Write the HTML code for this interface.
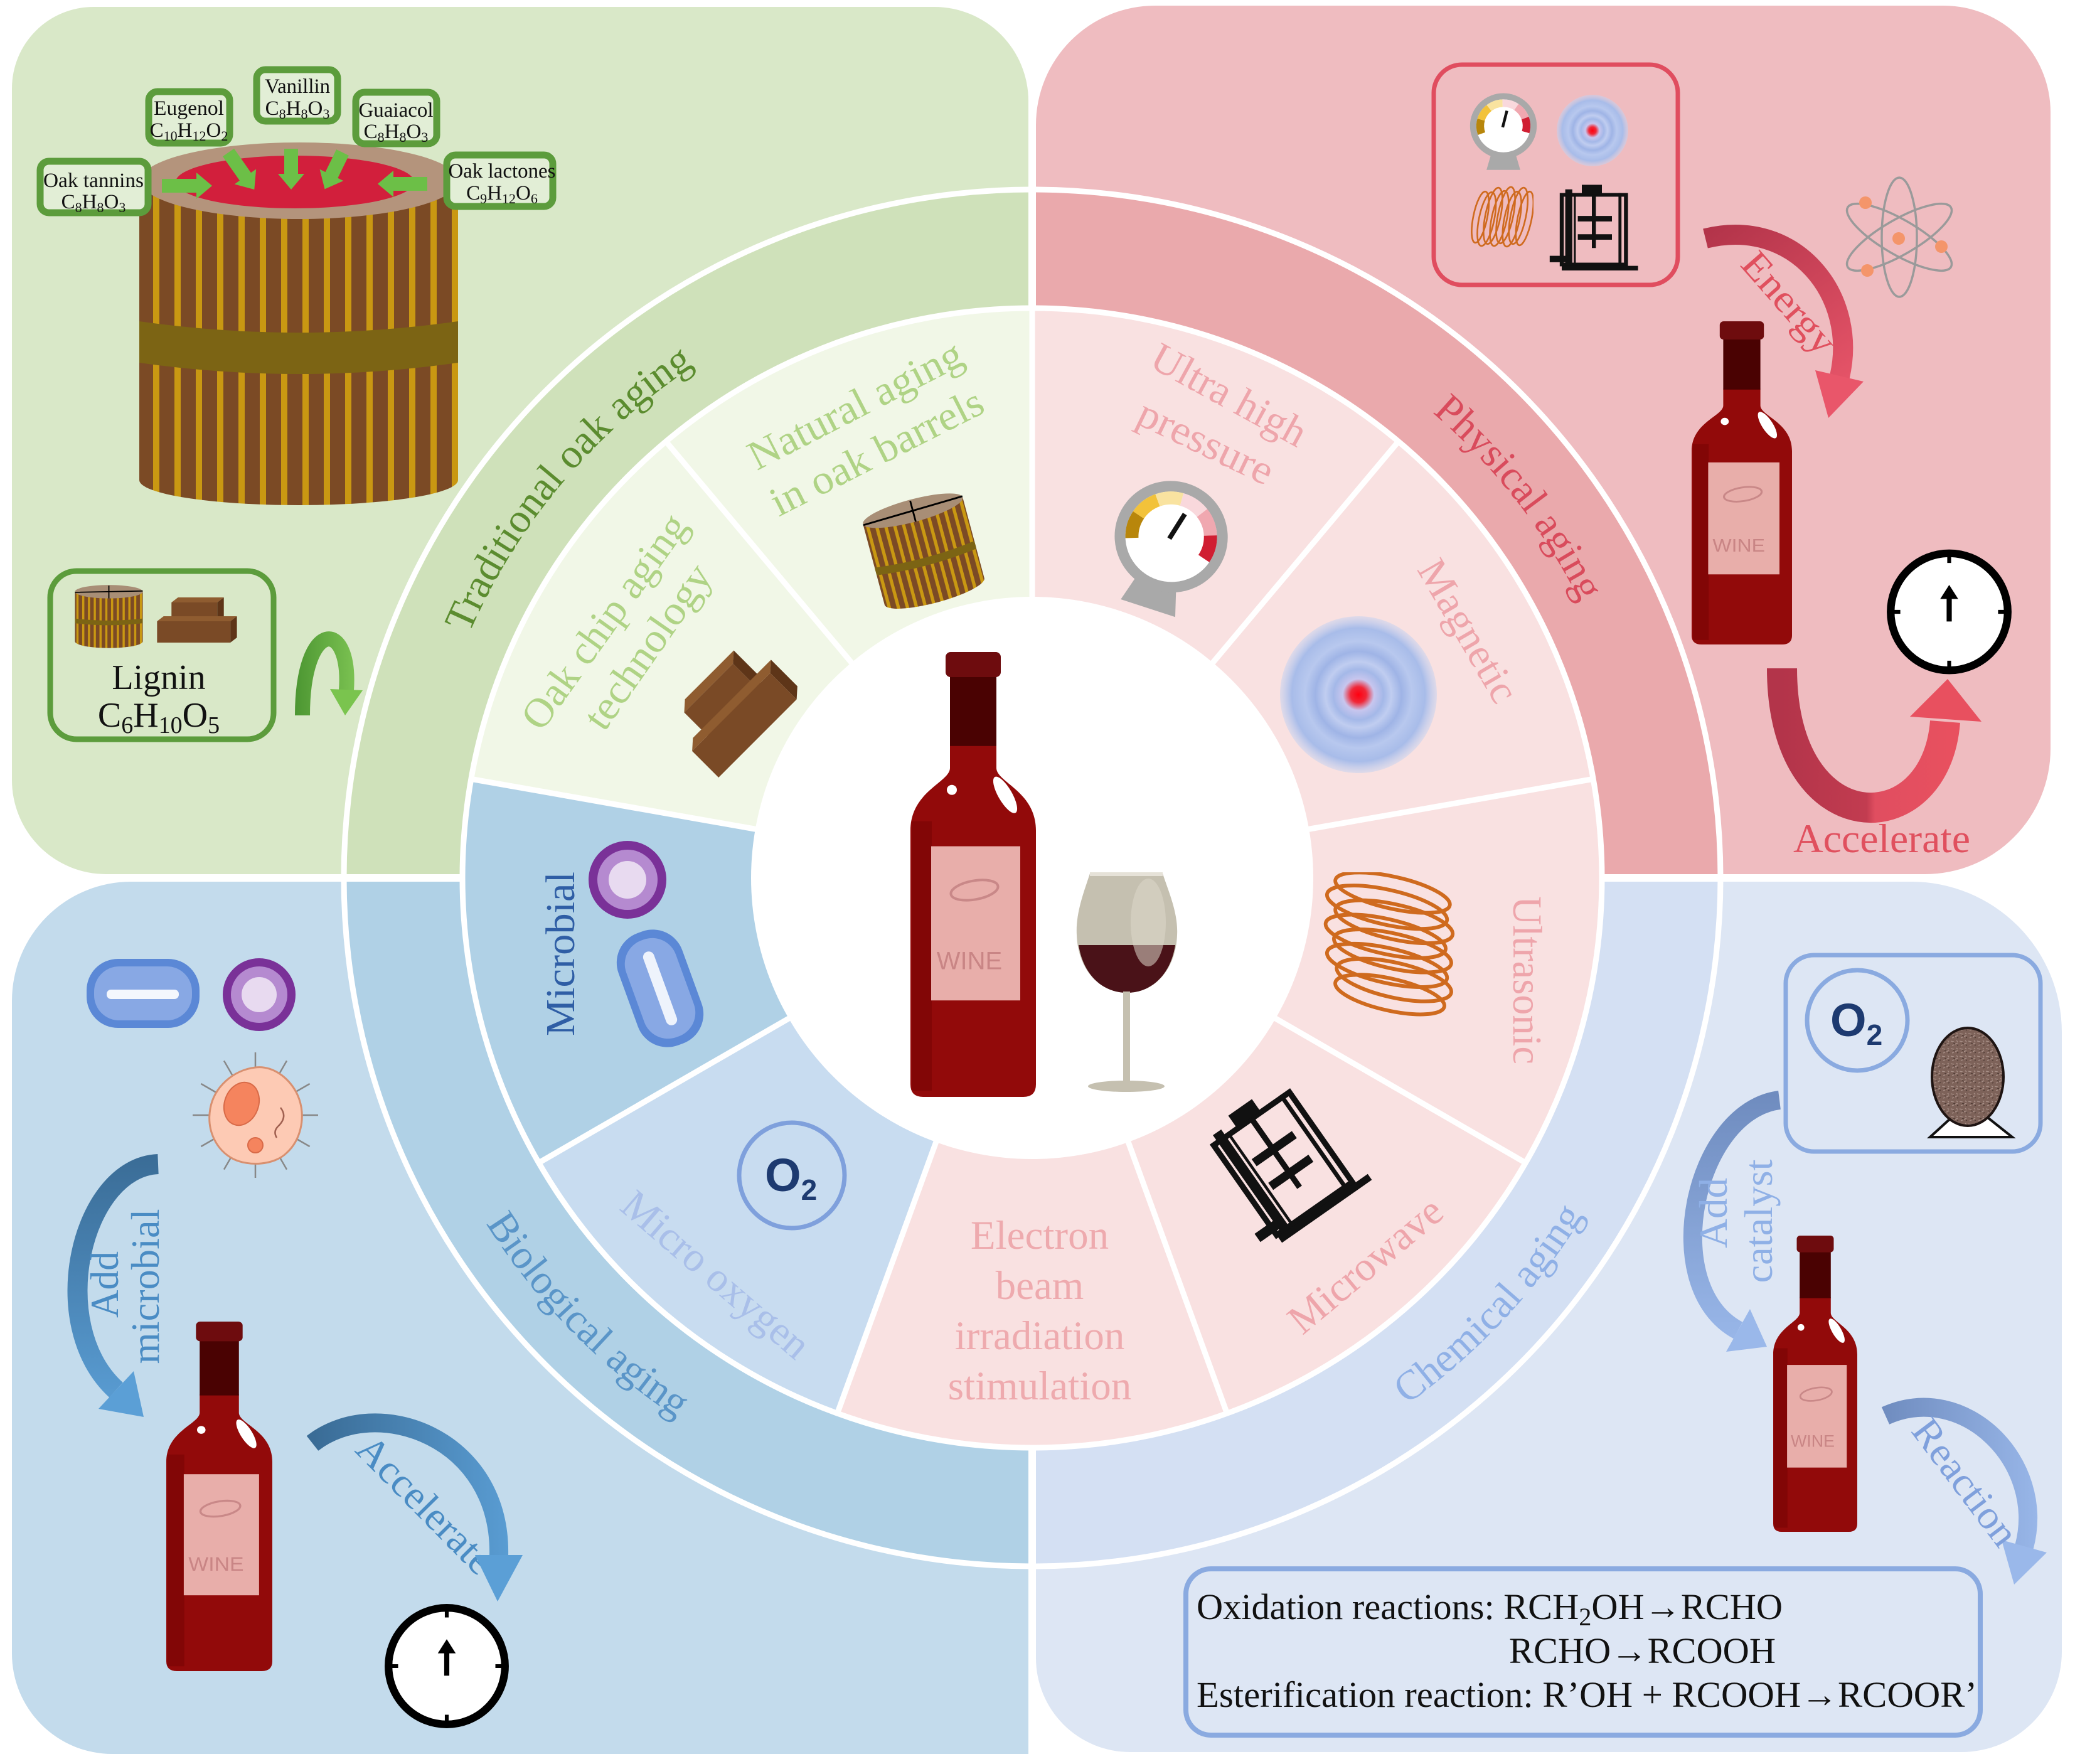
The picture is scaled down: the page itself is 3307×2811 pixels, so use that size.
<!DOCTYPE html>
<html><head><meta charset="utf-8"><style>
html,body{margin:0;padding:0;background:#fff;}
svg{display:block;}
text{font-family:"Liberation Serif",serif;}
.s{font-size:22px;}
</style></head><body>
<svg width="3307" height="2811" viewBox="0 0 3307 2811" xmlns="http://www.w3.org/2000/svg" xmlns:xlink="http://www.w3.org/1999/xlink">
<defs>
<pattern id="bigStripe" patternUnits="userSpaceOnUse" x="222" y="0" width="34" height="50"><rect width="34" height="50" fill="#7b4a25"/><rect x="22" width="10" height="50" fill="#c99812"/></pattern>
<pattern id="sStripe" patternUnits="userSpaceOnUse" x="0" y="0" width="8" height="10"><rect width="8" height="10" fill="#7b4a25"/><rect x="5" width="3" height="10" fill="#c99812"/></pattern>
<pattern id="eggTex" patternUnits="userSpaceOnUse" width="14" height="12"><rect width="14" height="12" fill="#7d6259"/><path d="M1,3 l5,1 M8,8 l4,-2 M3,10 l3,-1 M10,2 l2,2" stroke="#a89088" stroke-width="1.3"/><path d="M5,6 l3,1 M11,10 l2,-1" stroke="#4e3a34" stroke-width="1.3"/></pattern>
<radialGradient id="mag"><stop offset="0" stop-color="#ff0010"/><stop offset="0.1" stop-color="#f02838"/><stop offset="0.2" stop-color="#c8c6ee"/><stop offset="0.32" stop-color="#a4b8e8"/><stop offset="0.42" stop-color="#c0cdf0"/><stop offset="0.55" stop-color="#9fb4e6"/><stop offset="0.68" stop-color="#b8c8ee"/><stop offset="0.85" stop-color="#a8bce9"/><stop offset="1" stop-color="#c5d2f0" stop-opacity="0.5"/></radialGradient>
<linearGradient id="gEnergy" gradientUnits="userSpaceOnUse" x1="2720" y1="370" x2="2930" y2="650"><stop offset="0" stop-color="#b3344a"/><stop offset="1" stop-color="#e9566a"/></linearGradient>
<linearGradient id="gU" gradientUnits="userSpaceOnUse" x1="2840" y1="0" x2="3110" y2="0"><stop offset="0" stop-color="#b3344a"/><stop offset="0.5" stop-color="#c23c50"/><stop offset="0.55" stop-color="#e04e60"/><stop offset="1" stop-color="#e8505f"/></linearGradient>
<linearGradient id="gBlue1" gradientUnits="userSpaceOnUse" x1="0" y1="1840" x2="0" y2="2260"><stop offset="0" stop-color="#3a6c96"/><stop offset="1" stop-color="#5b9fd6"/></linearGradient>
<linearGradient id="gBlue2" gradientUnits="userSpaceOnUse" x1="500" y1="0" x2="830" y2="0"><stop offset="0" stop-color="#3a6c96"/><stop offset="1" stop-color="#5b9fd6"/></linearGradient>
<linearGradient id="gLav1" gradientUnits="userSpaceOnUse" x1="0" y1="1745" x2="0" y2="2150"><stop offset="0" stop-color="#6f8cbf"/><stop offset="1" stop-color="#9ab8ea"/></linearGradient>
<linearGradient id="gLav2" gradientUnits="userSpaceOnUse" x1="3000" y1="0" x2="3260" y2="0"><stop offset="0" stop-color="#6f8cbf"/><stop offset="1" stop-color="#9ab8ea"/></linearGradient>
<linearGradient id="gGreen" gradientUnits="userSpaceOnUse" x1="470" y1="0" x2="580" y2="0"><stop offset="0" stop-color="#4c9632"/><stop offset="1" stop-color="#82c856"/></linearGradient>

<symbol id="bottle" viewBox="0 0 200 710" preserveAspectRatio="none">
<path d="M63,148 H137 V185 C137,208 200,222 200,285 V690 Q200,710 180,710 H20 Q0,710 0,690 V285 C0,222 63,208 63,185 Z" fill="#920a0a"/>
<rect x="2" y="270" width="32" height="430" fill="#820606"/>
<rect x="63" y="38" width="74" height="112" fill="#4a0202"/>
<rect x="56" y="0" width="88" height="40" rx="8" fill="#6e0c0e"/>
<rect x="33" y="310" width="142" height="246" fill="#e8aeaa"/>
<ellipse cx="102" cy="380" rx="38" ry="15" fill="none" stroke="#c98888" stroke-width="4" transform="rotate(-10 102 380)"/>
<text x="94" y="506" font-size="40" text-anchor="middle" fill="#c98585" style="font-family:'Liberation Sans',sans-serif">WINE</text>
<ellipse cx="151" cy="228" rx="11" ry="33" fill="#fff" transform="rotate(-30 151 228)"/>
<circle cx="66" cy="220" r="8" fill="#fff"/>
</symbol>

<symbol id="sbarrel" viewBox="0 0 100 100" preserveAspectRatio="none">
<path d="M3,12 V86 A47,10 0 0 0 97,86 V12 Z" fill="url(#sStripe)"/>
<path d="M3,52 Q50,58 97,52 V59 Q50,65 3,59 Z" fill="#7c6414"/>
<ellipse cx="50" cy="12" rx="47" ry="10" fill="#a88e76"/>
<path d="M3,13 L97,11 M50,3 V22" stroke="#000" stroke-width="1.6" fill="none"/>
</symbol>

<symbol id="chips" viewBox="0 0 140 80" preserveAspectRatio="none">
<polygon points="30,10 40,2 110,2 100,10" fill="#8f5c30"/>
<rect x="30" y="10" width="70" height="35" fill="#7a4a26"/>
<polygon points="100,10 110,2 110,37 100,45" fill="#5e3518"/>
<polygon points="8,40 18,32 130,32 120,40" fill="#8f5c30"/>
<rect x="8" y="40" width="112" height="34" fill="#7a4a26"/>
<polygon points="120,40 130,32 130,66 120,74" fill="#5e3518"/>
</symbol>

<symbol id="gauge" viewBox="0 0 100 115" preserveAspectRatio="none">
<path d="M34,84 H66 L74,112 H26 Z" fill="#a9a9a9"/>
<circle cx="50" cy="48" r="43" fill="#fff" stroke="#a9a9a9" stroke-width="9"/>
<g fill="none" stroke-width="11">
<path d="M19,59.3 A33,33 0 0 1 18.3,38.9" stroke="#b8860b"/>
<path d="M18.3,38.9 A33,33 0 0 1 29.7,22" stroke="#f2c23a"/>
<path d="M29.7,22 A33,33 0 0 1 48.8,15" stroke="#f9e3a0"/>
<path d="M48.8,15 A33,33 0 0 1 68.5,20.6" stroke="#f9d8dc"/>
<path d="M68.5,20.6 A33,33 0 0 1 81,36.7" stroke="#f0a8b0"/>
<path d="M81,36.7 A33,33 0 0 1 81.7,57.1" stroke="#d01e32"/>
</g>
<line x1="49" y1="50" x2="55" y2="26" stroke="#111" stroke-width="4"/>
</symbol>

<symbol id="coil" viewBox="0 0 100 100" preserveAspectRatio="none">
<g fill="none" stroke="#cf6a1e" stroke-width="2.6">
<ellipse cx="52" cy="14" rx="42" ry="11" transform="rotate(12 52 14)"/>
<ellipse cx="48" cy="24" rx="44" ry="12" transform="rotate(12 48 24)"/>
<ellipse cx="53" cy="34" rx="43" ry="12" transform="rotate(12 53 34)"/>
<ellipse cx="47" cy="44" rx="44" ry="12" transform="rotate(12 47 44)"/>
<ellipse cx="52" cy="54" rx="43" ry="12" transform="rotate(12 52 54)"/>
<ellipse cx="48" cy="64" rx="44" ry="12" transform="rotate(12 48 64)"/>
<ellipse cx="53" cy="74" rx="42" ry="12" transform="rotate(12 53 74)"/>
<ellipse cx="50" cy="84" rx="40" ry="11" transform="rotate(12 50 84)"/>
</g>
</symbol>

<symbol id="mw" viewBox="0 0 100 100" preserveAspectRatio="none">
<g fill="none" stroke="#111">
<rect x="20" y="12" width="64" height="76" stroke-width="4"/>
<line x1="27" y1="6" x2="27" y2="94" stroke-width="7"/>
<line x1="33" y1="12" x2="33" y2="90" stroke-width="2"/>
<line x1="78" y1="10" x2="78" y2="92" stroke-width="3"/>
<line x1="52" y1="12" x2="52" y2="70" stroke-width="4"/>
<line x1="36" y1="38" x2="70" y2="38" stroke-width="6"/>
<line x1="36" y1="58" x2="70" y2="58" stroke-width="6"/>
<line x1="8" y1="82" x2="30" y2="82" stroke-width="7"/>
<line x1="20" y1="92" x2="96" y2="92" stroke-width="5"/>
</g>
<rect x="40" y="1" width="20" height="10" fill="#111"/>
</symbol>

<symbol id="clock" viewBox="0 0 200 200">
<circle cx="100" cy="100" r="91" fill="#fff" stroke="#000" stroke-width="12"/>
<path d="M100,4 V24 M100,176 V196 M4,100 H24 M176,100 H196" stroke="#000" stroke-width="6"/>
<path d="M100,115 V75" stroke="#000" stroke-width="8"/>
<path d="M86,80 L100,58 L114,80 Z" fill="#000"/>
</symbol>
</defs>

<!-- Panels -->
<path d="M149,11 H1489 A150,150 0 0 1 1639,161 V1393 H169 A150,150 0 0 1 19,1243 V141 A130,130 0 0 1 149,11 Z" fill="#d9e8c8"/>
<path d="M1841,9 H3098 A170,170 0 0 1 3268,179 V1193 A200,200 0 0 1 3068,1393 H1651 V199 A190,190 0 0 1 1841,9 Z" fill="#efbcc0"/>
<path d="M209,1405 H1639 V2795 H179 A160,160 0 0 1 19,2635 V1595 A190,190 0 0 1 209,1405 Z" fill="#c3dbec"/>
<path d="M1651,1405 H3046 A240,240 0 0 1 3286,1645 V2632 A160,160 0 0 1 3126,2792 H1801 A150,150 0 0 1 1651,2642 Z" fill="#dde6f4"/>

<!-- Band quadrants -->
<path d="M1645,1399 L548,1399 A1097,1097 0 0 1 1645,302 Z" fill="#cfe1ba"/>
<path d="M1645,1399 L1645,302 A1097,1097 0 0 1 2742,1399 Z" fill="#eaa9ac"/>
<path d="M1645,1399 L2742,1399 A1097,1097 0 0 1 1645,2496 Z" fill="#d4e0f3"/>
<path d="M1645,1399 L1645,2496 A1097,1097 0 0 1 548,1399 Z" fill="#b0d1e6"/>
<circle cx="1645" cy="1399" r="1097" fill="none" stroke="#fff" stroke-width="9"/>

<!-- Inner wedges -->
<path d="M1645,1399 L1645,491 A908,908 0 0 1 2228.7,703.5 Z" fill="#f9e1e1"/>
<path d="M1645,1399 L2228.7,703.5 A908,908 0 0 1 2539.2,1241.3 Z" fill="#f9e1e1"/>
<path d="M1645,1399 L2539.2,1241.3 A908,908 0 0 1 2431.4,1853 Z" fill="#f9e1e1"/>
<path d="M1645,1399 L2431.4,1853 A908,908 0 0 1 1955.5,2252.2 Z" fill="#f9e1e1"/>
<path d="M1645,1399 L1955.5,2252.2 A908,908 0 0 1 1334.5,2252.2 Z" fill="#f9e1e1"/>
<path d="M1645,1399 L1334.5,2252.2 A908,908 0 0 1 858.6,1853 Z" fill="#c8dcf0"/>
<path d="M1645,1399 L858.6,1853 A908,908 0 0 1 750.8,1241.3 Z" fill="#b0d1e6"/>
<path d="M1645,1399 L750.8,1241.3 A908,908 0 0 1 1061.3,703.5 Z" fill="#f1f7e7"/>
<path d="M1645,1399 L1061.3,703.5 A908,908 0 0 1 1645,491 Z" fill="#f1f7e7"/>
<circle cx="1645" cy="1399" r="908" fill="none" stroke="#fff" stroke-width="9"/>
<g stroke="#fff" stroke-width="9">
<line x1="1645" y1="1399" x2="1645" y2="491"/>
<line x1="1645" y1="1399" x2="2228.7" y2="703.5"/>
<line x1="1645" y1="1399" x2="2539.2" y2="1241.3"/>
<line x1="1645" y1="1399" x2="2431.4" y2="1853"/>
<line x1="1645" y1="1399" x2="1955.5" y2="2252.2"/>
<line x1="1645" y1="1399" x2="1334.5" y2="2252.2"/>
<line x1="1645" y1="1399" x2="858.6" y2="1853"/>
<line x1="1645" y1="1399" x2="750.8" y2="1241.3"/>
<line x1="1645" y1="1399" x2="1061.3" y2="703.5"/>
</g>
<g stroke="#fff" stroke-width="12">
<line x1="1645" y1="0" x2="1645" y2="495"/>
<line x1="1645" y1="2303" x2="1645" y2="2811"/>
<line x1="0" y1="1399" x2="741" y2="1399"/>
<line x1="2549" y1="1399" x2="3307" y2="1399"/>
</g>
<circle cx="1645" cy="1399" r="448" fill="#fff"/>

<!-- Band labels (curved) -->
<path id="pTrad" d="M798,1888 A978,978 0 0 1 1979.5,480" fill="none"/>
<path id="pPhys" d="M1342.8,468.9 A978,978 0 0 1 2474.4,1917.3" fill="none"/>
<path id="pChem" d="M1242.5,2347.1 A1030,1030 0 0 0 2562.7,931.4" fill="none"/>
<path id="pBio" d="M715.3,955.6 A1030,1030 0 0 0 2072.1,2336.3" fill="none"/>
<text font-size="66" fill="#5b8c2f"><textPath href="#pTrad" xlink:href="#pTrad" startOffset="50%" text-anchor="middle">Traditional oak aging</textPath></text>
<text font-size="66" fill="#d94b5c"><textPath href="#pPhys" xlink:href="#pPhys" startOffset="50%" text-anchor="middle">Physical aging</textPath></text>
<text font-size="66" fill="#8fb0e6"><textPath href="#pChem" xlink:href="#pChem" startOffset="50%" text-anchor="middle">Chemical aging</textPath></text>
<text font-size="66" fill="#5a95c8"><textPath href="#pBio" xlink:href="#pBio" startOffset="50%" text-anchor="middle">Biological aging</textPath></text>

<!-- Inner wedge labels -->
<g font-size="66" text-anchor="middle">
<text transform="translate(1363,645) rotate(-27.2)" y="22" fill="#afd385" textLength="375" lengthAdjust="spacingAndGlyphs">Natural aging</text>
<text transform="translate(1397,720) rotate(-26.9)" y="22" fill="#afd385" textLength="372" lengthAdjust="spacingAndGlyphs">in oak barrels</text>
<text transform="translate(963,990) rotate(-54.4)" y="22" fill="#afd385" textLength="405" lengthAdjust="spacingAndGlyphs">Oak chip aging</text>
<text transform="translate(1032,1030) rotate(-55.1)" y="22" fill="#afd385" textLength="305" lengthAdjust="spacingAndGlyphs">technology</text>
<text transform="translate(1959,629) rotate(28.7)" y="22" fill="#eea5ab" textLength="272" lengthAdjust="spacingAndGlyphs">Ultra high</text>
<text transform="translate(1922,704) rotate(25.7)" y="22" fill="#eea5ab" textLength="232" lengthAdjust="spacingAndGlyphs">pressure</text>
<text transform="translate(2340,1005) rotate(59.7)" y="22" fill="#eea5ab" textLength="252" lengthAdjust="spacingAndGlyphs">Magnetic</text>
<text transform="translate(2434,1562) rotate(90)" y="22" fill="#eea5ab" textLength="268" lengthAdjust="spacingAndGlyphs">Ultrasonic</text>
<text transform="translate(2176,2016) rotate(-39.9)" y="22" fill="#eea5ab" textLength="298" lengthAdjust="spacingAndGlyphs">Microwave</text>
<text transform="translate(1141,2031) rotate(40.6)" y="22" fill="#a9bfe9" textLength="372" lengthAdjust="spacingAndGlyphs">Micro oxygen</text>
<text transform="translate(893,1520) rotate(-90)" y="22" fill="#2f5ea5" textLength="262" lengthAdjust="spacingAndGlyphs">Microbial</text>
</g>
<g font-size="65" text-anchor="middle" fill="#eeaaae">
<text x="1657" y="1990">Electron</text>
<text x="1657" y="2070">beam</text>
<text x="1657" y="2150">irradiation</text>
<text x="1657" y="2230">stimulation</text>
</g>

<!-- Wedge icons -->
<use href="#sbarrel" xlink:href="#sbarrel" x="1385" y="790" width="175" height="180" transform="rotate(-15 1472 880)"/>
<use href="#chips" xlink:href="#chips" x="1062" y="1058" width="220" height="140" transform="rotate(-45 1172 1128)"/>
<use href="#gauge" xlink:href="#gauge" x="1770" y="765" width="190" height="215" transform="rotate(18 1864 860)"/>
<circle cx="2165" cy="1107" r="125" fill="url(#mag)"/>
<use href="#coil" xlink:href="#coil" x="2104" y="1390" width="222" height="232"/>
<use href="#mw" xlink:href="#mw" x="1926" y="1742" width="230" height="230" transform="rotate(-35 2041 1857)"/>
<g transform="translate(1000,1402)"><circle r="62" fill="#7a3198"/><circle r="48" fill="#b58ad0"/><circle r="30" fill="#e8daf0"/></g>
<g transform="translate(1052,1575) rotate(-20)"><rect x="-54" y="-95" width="108" height="190" rx="50" fill="#5b88d6"/><rect x="-42" y="-82" width="84" height="164" rx="40" fill="#88a8e4"/><rect x="-9" y="-62" width="18" height="124" rx="9" fill="#eef3fc"/></g>
<circle cx="1262" cy="1873" r="84" fill="none" stroke="#7fa0dc" stroke-width="7"/>
<text x="1219" y="1898" font-size="74" font-weight="bold" fill="#1d3a70" style="font-family:'Liberation Sans',sans-serif">O<tspan font-size="46" dy="14">2</tspan></text>

<!-- Center bottle & glass -->
<use href="#bottle" xlink:href="#bottle" x="1451" y="1039" width="200" height="709"/>
<path d="M1737,1392 H1853 C1862,1420 1878,1455 1876,1490 C1874,1545 1840,1582 1796,1582 C1752,1582 1718,1545 1716,1490 C1714,1455 1728,1420 1737,1392 Z" fill="#c5c0b0"/>
<path d="M1719,1506 H1873 C1866,1552 1836,1582 1796,1582 C1756,1582 1726,1552 1719,1506 Z" fill="#4a1218"/>
<ellipse cx="1830" cy="1470" rx="28" ry="70" fill="#dcd7ca" opacity="0.55"/>
<rect x="1737" y="1390" width="116" height="6" fill="#e6e2d8"/>
<rect x="1790" y="1580" width="11" height="148" fill="#c5c0b0"/>
<ellipse cx="1795" cy="1731" rx="61" ry="9" fill="#c5c0b0"/>

<!-- TL quadrant: big barrel -->
<path d="M222,290 V765 A254,40 0 0 0 730,765 V290 Z" fill="url(#bigStripe)"/>
<path d="M222,512 Q476,548 730,512 V578 Q476,614 222,578 Z" fill="#7c6414"/>
<ellipse cx="477" cy="288" rx="253" ry="61" fill="#b4947c"/>
<ellipse cx="470" cy="290" rx="190" ry="42" fill="#d21f3c"/>
<g fill="#6cbf47">
<g transform="translate(258,296) rotate(0)"><path d="M0,-11 H55 V-21 L80,0 L55,21 V11 H0 Z"/></g>
<g transform="translate(364,243) rotate(55)"><path d="M0,-11 H47 V-21 L72,0 L47,21 V11 H0 Z"/></g>
<g transform="translate(464,237) rotate(90)"><path d="M0,-11 H40 V-21 L65,0 L40,21 V11 H0 Z"/></g>
<g transform="translate(546,243) rotate(116)"><path d="M0,-11 H40 V-21 L65,0 L40,21 V11 H0 Z"/></g>
<g transform="translate(681,293) rotate(180)"><path d="M0,-11 H54 V-21 L79,0 L54,21 V11 H0 Z"/></g>
</g>
<g fill="#e2eed6" stroke="#5c9c3c" stroke-width="11">
<rect x="64" y="257" width="172" height="82" rx="14"/>
<rect x="237" y="146" width="129" height="82" rx="14"/>
<rect x="409" y="111" width="129" height="82" rx="14"/>
<rect x="567" y="147" width="129" height="82" rx="14"/>
<rect x="712" y="247" width="169" height="82" rx="14"/>
</g>
<g font-size="33" text-anchor="middle" fill="#111">
<text x="149" y="298" textLength="160" lengthAdjust="spacingAndGlyphs">Oak tannins</text>
<text x="149" y="332">C<tspan class="s" dy="6">8</tspan><tspan dy="-6">H</tspan><tspan class="s" dy="6">8</tspan><tspan dy="-6">O</tspan><tspan class="s" dy="6">3</tspan></text>
<text x="301" y="183" textLength="112" lengthAdjust="spacingAndGlyphs">Eugenol</text>
<text x="301" y="218">C<tspan class="s" dy="6">10</tspan><tspan dy="-6">H</tspan><tspan class="s" dy="6">12</tspan><tspan dy="-6">O</tspan><tspan class="s" dy="6">2</tspan></text>
<text x="474" y="148" textLength="104" lengthAdjust="spacingAndGlyphs">Vanillin</text>
<text x="474" y="183">C<tspan class="s" dy="6">8</tspan><tspan dy="-6">H</tspan><tspan class="s" dy="6">8</tspan><tspan dy="-6">O</tspan><tspan class="s" dy="6">3</tspan></text>
<text x="631" y="186" textLength="119" lengthAdjust="spacingAndGlyphs">Guaiacol</text>
<text x="631" y="220">C<tspan class="s" dy="6">8</tspan><tspan dy="-6">H</tspan><tspan class="s" dy="6">8</tspan><tspan dy="-6">O</tspan><tspan class="s" dy="6">3</tspan></text>
<text x="800" y="283" textLength="171" lengthAdjust="spacingAndGlyphs">Oak lactones</text>
<text x="800" y="318">C<tspan class="s" dy="6">9</tspan><tspan dy="-6">H</tspan><tspan class="s" dy="6">12</tspan><tspan dy="-6">O</tspan><tspan class="s" dy="6">6</tspan></text>
</g>
<!-- Lignin box -->
<rect x="80" y="910" width="356" height="268" rx="42" fill="none" stroke="#5c9c3c" stroke-width="9"/>
<use href="#sbarrel" xlink:href="#sbarrel" x="116" y="930" width="115" height="107"/>
<use href="#chips" xlink:href="#chips" x="242" y="950" width="146" height="80"/>
<text x="253" y="1098" font-size="56" text-anchor="middle" fill="#111">Lignin</text>
<text x="253" y="1158" font-size="56" text-anchor="middle" fill="#111">C<tspan font-size="38" dy="10">6</tspan><tspan dy="-10">H</tspan><tspan font-size="38" dy="10">10</tspan><tspan dy="-10">O</tspan><tspan font-size="38" dy="10">5</tspan></text>
<path d="M482,1140 C482,985 560,985 552,1100" fill="none" stroke="url(#gGreen)" stroke-width="24"/>
<path d="M578,1100 L526,1098 L550,1140 Z" fill="#7ac44e"/>

<!-- TR quadrant -->
<rect x="2285" y="103" width="389" height="351" rx="45" fill="none" stroke="#e04d5f" stroke-width="7"/>
<use href="#gauge" xlink:href="#gauge" x="2340" y="148" width="112" height="126"/>
<circle cx="2538" cy="208" r="57" fill="url(#mag)"/>
<use href="#coil" xlink:href="#coil" x="2342" y="296" width="104" height="101" transform="rotate(90 2394 346)"/>
<use href="#mw" xlink:href="#mw" x="2457" y="293" width="160" height="146"/>
<g transform="translate(3027,378)" fill="none" stroke="#9a9a9a" stroke-width="3.5">
<ellipse rx="95" ry="28" transform="rotate(90)"/>
<ellipse rx="95" ry="28" transform="rotate(30)"/>
<ellipse rx="95" ry="28" transform="rotate(-30)"/>
</g>
<g fill="#f4956a"><circle cx="3026" cy="380" r="10"/><circle cx="2973" cy="323" r="10"/><circle cx="3094" cy="393" r="10"/><circle cx="2976" cy="431" r="10"/></g>
<path d="M2718,380 C2860,345 2962,470 2932,600" fill="none" stroke="url(#gEnergy)" stroke-width="32"/>
<path d="M2970,608 L2893,590 L2914,666 Z" fill="#e9566a"/>
<text transform="translate(2852,482) rotate(48.7)" y="21" font-size="62" text-anchor="middle" fill="#e0505e" textLength="195" lengthAdjust="spacingAndGlyphs">Energy</text>
<use href="#bottle" xlink:href="#bottle" x="2696" y="512" width="160" height="515"/>
<use href="#clock" xlink:href="#clock" x="3004" y="872" width="205" height="206"/>
<path d="M2840,1065 C2840,1345 3085,1345 3100,1150" fill="none" stroke="url(#gU)" stroke-width="48"/>
<path d="M3158,1150 L3044,1142 L3104,1082 Z" fill="#e8505f"/>
<text x="2858" y="1358" font-size="65" fill="#e0505e" textLength="282" lengthAdjust="spacingAndGlyphs">Accelerate</text>

<!-- BL quadrant -->
<rect x="138" y="1528" width="180" height="110" rx="50" fill="#5b88d6"/>
<rect x="150" y="1540" width="156" height="86" rx="40" fill="#88a8e4"/>
<rect x="170" y="1577" width="115" height="15" rx="7" fill="#f4f7fd"/>
<g transform="translate(413,1585)"><circle r="58" fill="#7a3198"/><circle r="45" fill="#b58ad0"/><circle r="28" fill="#e8daf0"/></g>
<g transform="translate(407,1777)">
<path d="M70,0 L100,0 M60.6,35 L86.6,50 M35,60.6 L50,86.6 M0,70 L0,100 M-35,60.6 L-50,86.6 M-60.6,35 L-86.6,50 M-70,0 L-100,0 M-60.6,-35 L-86.6,-50 M-35,-60.6 L-50,-86.6 M0,-70 L0,-100 M35,-60.6 L50,-86.6 M60.6,-35 L86.6,-50" stroke="#888" stroke-width="2.5"/>
<path d="M0,-76 C30,-80 60,-55 70,-25 C80,5 72,40 50,60 C30,80 -10,82 -35,70 C-62,56 -78,25 -72,-10 C-66,-45 -35,-72 0,-76 Z" fill="#fdcab4" stroke="#d89070" stroke-width="3"/>
<ellipse cx="-22" cy="-18" rx="27" ry="35" fill="#f5845e" stroke="#d86a48" stroke-width="2" transform="rotate(20 -22 -18)"/>
<circle cx="0" cy="48" r="12" fill="#f5845e" stroke="#d86a48" stroke-width="2"/>
<path d="M40,-12 q12,15 -4,30 q-8,8 -2,18" stroke="#a06050" stroke-width="2.5" fill="none"/>
</g>
<path d="M252,1855 C130,1860 70,2110 185,2215" fill="none" stroke="url(#gBlue1)" stroke-width="32"/>
<path d="M157,2245 L213,2185 L229,2258 Z" fill="#5b9fd6"/>
<g font-size="64" fill="#4a8cc4">
<text transform="translate(167,2047) rotate(-90)" y="21" text-anchor="middle" textLength="106" lengthAdjust="spacingAndGlyphs">Add</text>
<text transform="translate(232,2050) rotate(-90)" y="21" text-anchor="middle" textLength="247" lengthAdjust="spacingAndGlyphs">microbial</text>
<text transform="translate(678,2398) rotate(45.4)" y="21" text-anchor="middle" textLength="282" lengthAdjust="spacingAndGlyphs">Accelerate</text>
</g>
<use href="#bottle" xlink:href="#bottle" x="265" y="2106" width="169" height="557"/>
<path d="M498,2300 C600,2220 800,2290 795,2480" fill="none" stroke="url(#gBlue2)" stroke-width="30"/>
<path d="M833,2478 L757,2478 L793,2552 Z" fill="#5b9fd6"/>
<use href="#clock" xlink:href="#clock" x="610" y="2553" width="204" height="204"/>

<!-- BR quadrant -->
<rect x="2846" y="1522" width="406" height="313" rx="45" fill="none" stroke="#8aaae0" stroke-width="7"/>
<circle cx="2960" cy="1626" r="80" fill="none" stroke="#8aaae0" stroke-width="7"/>
<text x="2917" y="1651" font-size="74" font-weight="bold" fill="#1d3a70" style="font-family:'Liberation Sans',sans-serif">O<tspan font-size="46" dy="14">2</tspan></text>
<path d="M3076,1812 L3110,1781 H3168 L3207,1812 Z" fill="#fff" stroke="#111" stroke-width="4"/>
<ellipse cx="3136" cy="1716" rx="57" ry="78" fill="url(#eggTex)" stroke="#1e1412" stroke-width="4"/>
<path d="M2836,1753 C2700,1770 2640,2050 2770,2120" fill="none" stroke="url(#gLav1)" stroke-width="30"/>
<path d="M2751,2154 L2789,2086 L2816,2146 Z" fill="#9ab8ea"/>
<g font-size="64" fill="#8fb0e6">
<text transform="translate(2731,1933) rotate(-90)" y="21" text-anchor="middle" textLength="112" lengthAdjust="spacingAndGlyphs">Add</text>
<text transform="translate(2803,1946) rotate(-90)" y="21" text-anchor="middle" textLength="197" lengthAdjust="spacingAndGlyphs">catalyst</text>
</g>
<use href="#bottle" xlink:href="#bottle" x="2826" y="1969" width="134" height="472"/>
<path d="M3005,2256 C3130,2200 3262,2330 3226,2465" fill="none" stroke="url(#gLav2)" stroke-width="30"/>
<path d="M3262,2474 L3190,2454 L3210,2525 Z" fill="#9ab8ea"/>
<text transform="translate(3132,2362) rotate(53)" y="21" font-size="64" text-anchor="middle" fill="#7fa0dc" textLength="236" lengthAdjust="spacingAndGlyphs">Reaction</text>

<rect x="1890" y="2500" width="1266" height="265" rx="40" fill="none" stroke="#8aaae0" stroke-width="8"/>
<g font-size="58" fill="#111">
<text x="1907" y="2580" textLength="934" lengthAdjust="spacingAndGlyphs">Oxidation reactions: RCH<tspan font-size="40" dy="10">2</tspan><tspan dy="-10">OH→RCHO</tspan></text>
<text x="2405" y="2650" textLength="425" lengthAdjust="spacingAndGlyphs">RCHO→RCOOH</text>
<text x="1907" y="2720" textLength="1244" lengthAdjust="spacingAndGlyphs">Esterification reaction: R’OH + RCOOH→RCOOR’</text>
</g>
</svg>
</body></html>
